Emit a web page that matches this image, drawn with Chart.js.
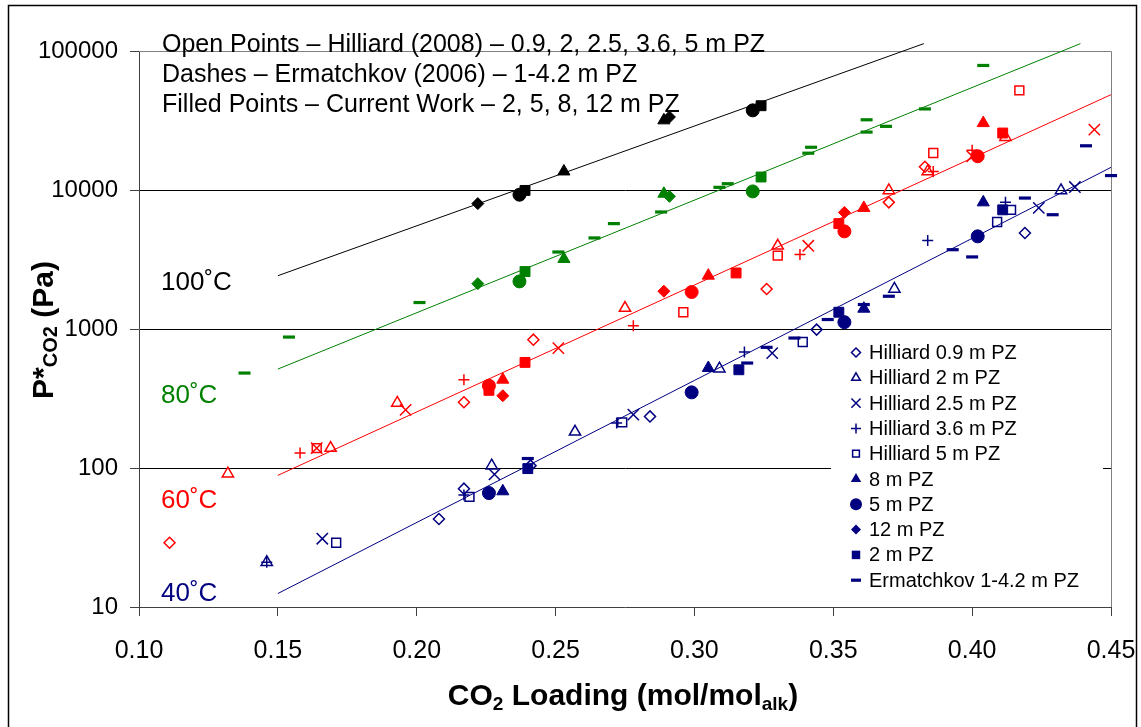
<!DOCTYPE html>
<html><head><meta charset="utf-8">
<script src="https://cdn.jsdelivr.net/npm/chart.js@4/dist/chart.umd.min.js"></script>
<style>html,body{margin:0;padding:0;background:#fff;}#wrap{width:1141px;height:727px;position:relative;}</style>
</head><body><div id="wrap"><canvas id="c" width="1141" height="727"></canvas></div>
<script>
// ---------- axis ranges & ticks ----------
const xTicks = [0.10, 0.15, 0.20, 0.25, 0.30, 0.35, 0.40, 0.45];
const yTicks = [10, 100, 1000, 10000, 100000];

// ---------- 40 C (navy) ----------
const h09_40 = [[0.208,43],[0.217,71],[0.241,104],[0.284,235],[0.344,990],[0.419,4910]];
const h2_40  = [[0.146,21],[0.227,104],[0.257,182],[0.309,518],[0.372,1940],[0.432,9930]];
const h25_40 = [[0.166,31],[0.228,90],[0.278,242],[0.328,671],[0.424,7430],[0.437,10500]];
const h36_40 = [[0.146,21],[0.217,64],[0.272,211],[0.318,684],[0.384,4340],[0.412,8150]];
const h5_40  = [[0.171,29],[0.219,62],[0.274,213],[0.339,806],[0.409,5890],[0.414,7200]];
const m8_40  = [[0.231,68],[0.305,524],[0.361,1400],[0.404,8150]];
const m5_40  = [[0.226,66],[0.299,350],[0.354,1120],[0.402,4640]];
const m12_40 = [];
const m2_40  = [[0.240,99],[0.316,509],[0.352,1320],[0.411,7200]];
const erm_40 = [[0.240,117],[0.319,569],[0.326,738],[0.336,861],[0.348,1170],[0.361,1500],[0.370,1720],[0.393,3720],[0.400,3300],[0.419,8750],[0.429,6640],[0.441,20800],[0.450,12700]];

// ---------- 60 C (red) ----------
const h09_60 = [[0.111,29],[0.217,297],[0.242,838],[0.326,1940],[0.370,8150],[0.383,14700]];
const h2_60  = [[0.132,91],[0.169,139],[0.193,294],[0.275,1415],[0.330,3970],[0.370,9930],[0.384,13600],[0.412,24000]];
const h25_60 = [[0.164,139],[0.196,262],[0.251,729],[0.341,3970],[0.400,17500],[0.444,27200]];
const h36_60 = [[0.158,128],[0.217,432],[0.278,1057],[0.338,3430],[0.386,13600],[0.400,19300]];
const h5_60  = [[0.164,139],[0.296,1320],[0.330,3370],[0.386,18450],[0.417,52100]];
const m8_60  = [[0.231,432],[0.305,2420],[0.361,7430],[0.404,30300]];
const m5_60  = [[0.226,391],[0.299,1845],[0.354,5040],[0.402,17500]];
const m12_60 = [[0.231,331],[0.289,1870],[0.354,6900]];
const m2_60  = [[0.226,362],[0.239,575],[0.315,2530],[0.352,5730],[0.411,25700]];

// ---------- 80 C (green) ----------
const erm_80 = [[0.138,482],[0.154,875],[0.201,1550],[0.251,3580],[0.264,4520],[0.271,5730],[0.288,6950],[0.309,10450],[0.312,11100],[0.341,18400],[0.342,20300],[0.362,32000],[0.362,26100],[0.369,28700],[0.383,38300],[0.404,78700]];
const m12_80 = [[0.222,2120],[0.291,9000]];
const m5_80  = [[0.237,2200],[0.321,9770]];
const m2_80  = [[0.239,2590],[0.324,12400]];
const m8_80  = [[0.253,3190],[0.289,9400]];

// ---------- 100 C (black) ----------
const m12_100 = [[0.222,7980],[0.291,33500]];
const m5_100  = [[0.237,9250],[0.321,37400]];
const m2_100  = [[0.239,9930],[0.324,40400]];
const m8_100  = [[0.253,13600],[0.289,31700]];

// ---------- fitted lines ----------
const fit_100 = [[0.15,2417],[0.3826,113000]];
const fit_80  = [[0.15,515],[0.439,113000]];
const fit_60  = [[0.15,88.5],[0.45,48500]];
const fit_40  = [[0.15,12.5],[0.45,14550]];

// ---------- labels ----------
const seriesLabels = ['Hilliard 0.9 m PZ','Hilliard 2 m PZ','Hilliard 2.5 m PZ','Hilliard 3.6 m PZ','Hilliard 5 m PZ','8 m PZ','5 m PZ','12 m PZ','2 m PZ','Ermatchkov 1-4.2 m PZ'];
const noteLines = ['Open Points \u2013 Hilliard (2008) \u2013 0.9, 2, 2.5, 3.6, 5 m PZ','Dashes \u2013 Ermatchkov (2006) \u2013 1-4.2 m PZ','Filled Points \u2013 Current Work \u2013 2, 5, 8, 12 m PZ'];
const tempLabels = ['100\u02DAC','80\u02DAC','60\u02DAC','40\u02DAC'];

const NAVY='#000080', RED='#ff0000', GREEN='#008000', BLACK='#000000';
const FONT='"Liberation Sans", Arial, sans-serif';

// marker styles (index matches seriesLabels)
const styles = [
  {ps:'rectRot', r:5.5, filled:false, bw:1.5, lr:4.5},
  {ps:'triangle', r:6.5, filled:false, bw:1.5, lr:5},
  {ps:'crossRot', r:8, filled:false, bw:1.5, lr:6.5},
  {ps:'cross', r:5.5, filled:false, bw:1.5, lr:5},
  {ps:'rect', r:6.3, filled:false, bw:1.5, lr:4.8},
  {ps:'triangle', r:7, filled:true, bw:1, lr:6},
  {ps:'circle', r:6.5, filled:true, bw:1, lr:6},
  {ps:'rectRot', r:6, filled:true, bw:1, lr:5},
  {ps:'rect', r:7, filled:true, bw:1, lr:6},
  {ps:'line', r:6, filled:false, bw:3.2, lr:5}
];

const groups = [
  {color:NAVY, sets:[h09_40,h2_40,h25_40,h36_40,h5_40,m8_40,m5_40,m12_40,m2_40,erm_40], legend:true, tag:'40'},
  {color:RED, sets:[h09_60,h2_60,h25_60,h36_60,h5_60,m8_60,m5_60,m12_60,m2_60,[]], legend:false, tag:'60'},
  {color:GREEN, sets:[[],[],[],[],[],m8_80,m5_80,m12_80,m2_80,erm_80], legend:false, tag:'80'},
  {color:BLACK, sets:[[],[],[],[],[],m8_100,m5_100,m12_100,m2_100,[]], legend:false, tag:'100'}
];

const datasets = [];
groups.forEach(g => {
  g.sets.forEach((arr, i) => {
    const s = styles[i];
    datasets.push({
      type:'scatter',
      label: seriesLabels[i] + (g.legend ? '' : ' ' + g.tag + '\u02DAC'),
      data: arr.map(p => ({x:p[0], y:p[1]})),
      pointStyle: s.ps,
      pointRadius: s.r,
      pointHoverRadius: s.r,
      pointBorderWidth: s.bw,
      borderColor: g.color,
      backgroundColor: s.filled ? g.color : 'rgba(0,0,0,0)',
      pointBackgroundColor: s.filled ? g.color : 'rgba(0,0,0,0)',
      pointBorderColor: g.color,
      showLine:false,
      clip:false
    });
  });
});
[[fit_100,BLACK],[fit_80,GREEN],[fit_60,RED],[fit_40,NAVY]].forEach(([f,c]) => {
  datasets.push({type:'line', label:'fit', data:f.map(p=>({x:p[0],y:p[1]})), borderColor:c, borderWidth:1, pointRadius:0, fill:false, clip:false, tension:0});
});

function drawMarker(ctx, st, x, y, r, color){
  ctx.save();
  ctx.strokeStyle=color; ctx.fillStyle=color; ctx.lineWidth=st.bw;
  ctx.beginPath();
  switch(st.ps){
    case 'circle': ctx.arc(x,y,r,0,Math.PI*2); break;
    case 'triangle': {
      const w=r*Math.sqrt(3)/2;
      ctx.moveTo(x, y-r); ctx.lineTo(x+w, y+r/2); ctx.lineTo(x-w, y+r/2); ctx.closePath(); break; }
    case 'rect': { const s=r*Math.SQRT1_2; ctx.rect(x-s,y-s,2*s,2*s); break; }
    case 'rectRot': ctx.moveTo(x,y-r); ctx.lineTo(x+r,y); ctx.lineTo(x,y+r); ctx.lineTo(x-r,y); ctx.closePath(); break;
    case 'cross': ctx.moveTo(x-r,y); ctx.lineTo(x+r,y); ctx.moveTo(x,y-r); ctx.lineTo(x,y+r); break;
    case 'crossRot': { const s=r*Math.SQRT1_2; ctx.moveTo(x-s,y-s); ctx.lineTo(x+s,y+s); ctx.moveTo(x+s,y-s); ctx.lineTo(x-s,y+s); break; }
    case 'line': ctx.moveTo(x-r,y); ctx.lineTo(x+r,y); break;
  }
  if (st.filled) { ctx.fill(); } else { ctx.stroke(); }
  ctx.restore();
}

function drawRuns(ctx, runs, cx, baseline, bold){
  let total=0;
  runs.forEach(r => { ctx.font=(bold?'bold ':'')+r.size+'px '+FONT; r.w=ctx.measureText(r.t).width; total+=r.w; });
  let x=cx-total/2;
  runs.forEach(r => { ctx.font=(bold?'bold ':'')+r.size+'px '+FONT; ctx.fillText(r.t, x, baseline+(r.dy||0)); x+=r.w; });
}

const decor = {
  id:'decor',
  beforeDatasetsDraw(chart){
    const ctx=chart.ctx, a=chart.chartArea;
    ctx.save();
    // legend background (covers gridline)
    ctx.fillStyle='#ffffff';
    ctx.fillRect(831, 336, 272, 264);
    // plot border (top/right)
    ctx.strokeStyle='#808080'; ctx.lineWidth=1;
    const r=Math.round(a.right)+0.5, t=Math.round(a.top)+0.5;
    ctx.beginPath(); ctx.moveTo(a.left, t); ctx.lineTo(r, t); ctx.lineTo(r, a.bottom); ctx.stroke();
    ctx.restore();
  },
  afterDraw(chart){
    const ctx=chart.ctx;
    ctx.save();
    // outer frame
    ctx.strokeStyle='#000'; ctx.lineWidth=1.5;
    ctx.strokeRect(8.5, 5.5, 1128, 740);
    // notes
    ctx.fillStyle='#000'; ctx.textAlign='left'; ctx.textBaseline='alphabetic';
    ctx.font='25px '+FONT;
    ctx.fillText(noteLines[0], 162, 52);
    ctx.fillText(noteLines[1], 162, 82);
    ctx.fillText(noteLines[2], 162, 111.5);
    // temperature labels
    ctx.font='26px '+FONT;
    const tcol=[BLACK,GREEN,RED,NAVY], tby=[290,403,508,601];
    tempLabels.forEach((t,i)=>{ ctx.fillStyle=tcol[i]; ctx.fillText(t, 161, tby[i]); });
    // legend
    ctx.font='20px '+FONT; ctx.textBaseline='middle';
    seriesLabels.forEach((lab,i)=>{
      const y=352.5+i*25.3;
      drawMarker(ctx, styles[i], 856, y, styles[i].lr, NAVY);
      ctx.fillStyle='#000';
      ctx.fillText(lab, 869, y+1);
    });
    // axis titles
    ctx.textBaseline='alphabetic'; ctx.fillStyle='#000'; ctx.textAlign='left';
    drawRuns(ctx, [{t:'CO',size:30},{t:'2',size:19,dy:5},{t:' Loading (mol/mol',size:30},{t:'alk',size:19,dy:5},{t:')',size:30}], 623, 705, true);
    ctx.save();
    ctx.translate(53, 330); ctx.rotate(-Math.PI/2);
    drawRuns(ctx, [{t:'P*',size:30},{t:'CO2',size:20,dy:4},{t:' (Pa)',size:30}], 0, 0, true);
    ctx.restore();
    ctx.restore();
  }
};

new Chart(document.getElementById('c'), {
  type:'scatter',
  data:{datasets},
  options:{
    responsive:false,
    animation:false,
    devicePixelRatio:1,
    layout:{padding:{left:0, top:51, right:30, bottom:0}},
    plugins:{legend:{display:false}, tooltip:{enabled:false}},
    scales:{
      x:{
        type:'linear', min:0.10, max:0.45,
        afterBuildTicks(s){ s.ticks = xTicks.map(v=>({value:v})); },
        afterFit(s){ s.height = 120; s.paddingLeft = 0; s.paddingRight = 0; },
        ticks:{ callback:v=>Number(v).toFixed(2), font:{family:FONT, size:25}, color:'#000', padding:20, maxRotation:0, autoSkip:false },
        grid:{ drawOnChartArea:false, drawTicks:true, tickLength:9, tickColor:'#404040' },
        border:{ color:'#404040', width:1 }
      },
      y:{
        type:'logarithmic', min:10, max:100000,
        afterBuildTicks(s){ s.ticks = yTicks.map(v=>({value:v})); },
        afterFit(s){ s.width = 139; s.paddingTop = 0; s.paddingBottom = 0; },
        ticks:{ callback:v=>String(v), font:{family:FONT, size:24}, color:'#000', padding:12, autoSkip:false },
        grid:{ drawOnChartArea:true, drawTicks:true, tickLength:9, tickColor:'#404040',
          color:c=>{ const v=c.tick&&c.tick.value; if(v===100000) return '#808080'; if(v===10) return 'rgba(0,0,0,0)'; return '#000'; } },
        border:{ color:'#404040', width:1 }
      }
    }
  },
  plugins:[decor]
});
</script></body></html>
